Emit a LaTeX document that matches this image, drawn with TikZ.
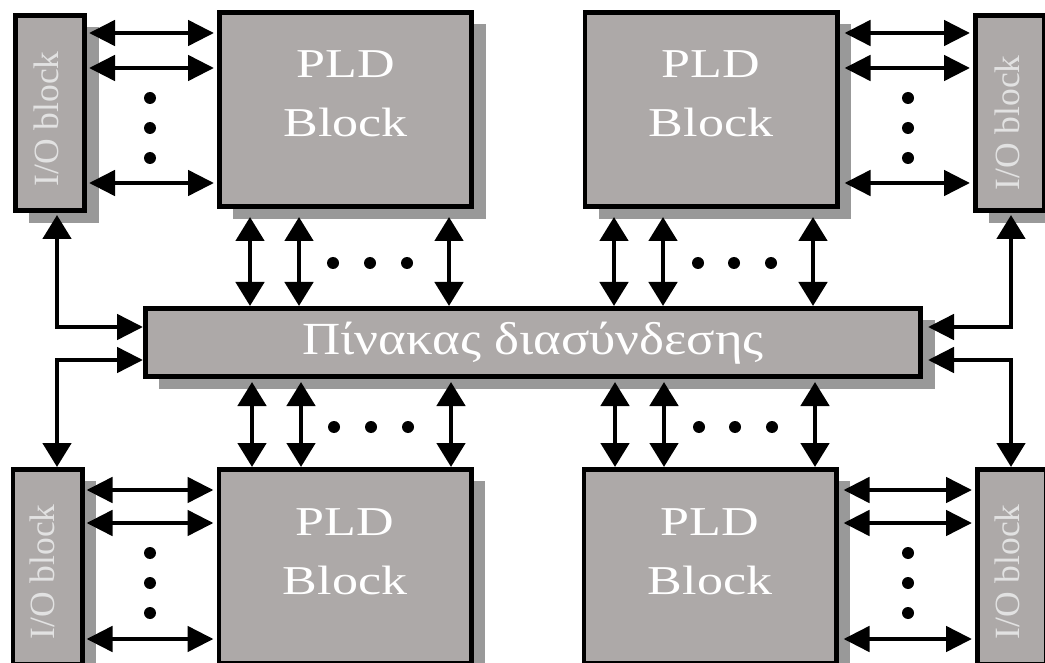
\documentclass[tikz,border=0pt]{standalone}
\usepackage{fontspec}
\setmainfont{Liberation Serif}
\usetikzlibrary{arrows.meta,shadows}
\definecolor{boxgray}{RGB}{173,169,168}
\definecolor{shadegray}{RGB}{153,153,153}
\definecolor{iotext}{RGB}{226,226,226}
\tikzset{
  htip/.tip={Triangle[length=26pt,width=25pt]},
  vtip/.tip={Triangle[length=24pt,width=28pt]},
  blk/.style={draw=black, line width=4.8pt, fill=boxgray, inner sep=0pt,
    drop shadow={shadow xshift=14pt, shadow yshift=-12pt, fill=shadegray, opacity=1}},
  iobox/.style={blk, minimum width=69.2pt, minimum height=195.2pt},
  pldbox/.style={blk, minimum width=252.2pt, minimum height=194.2pt},
  busbox/.style={blk, minimum width=775.2pt, minimum height=68.2pt},
  pldtext/.style={text=white, inner sep=0pt, anchor=base, font=\fontsize{41}{49}\selectfont},
  bustext/.style={text=white, inner sep=0pt, anchor=base, font=\fontsize{46}{55}\selectfont},
  iotext/.style={text=iotext, inner sep=0pt, rotate=90, font=\fontsize{35.5}{42}\selectfont},
  link/.style={line width=4.8pt},
  hlink/.style={link, arrows={htip-htip}, shorten <=2pt, shorten >=3pt},
  vlink/.style={link, arrows={vtip-vtip}},
  dot/.style={circle, fill=black, inner sep=0pt, minimum size=12pt},
}
\begin{document}
\begin{tikzpicture}[x=1pt,y=-1pt]
\useasboundingbox (0,0) rectangle (1045,663);
\clip (0,0) rectangle (1045,663);

% programmable logic blocks
\node[pldbox] (pld1) at (345.5,109.5) {};
\node[pldbox] (pld2) at (711,109.5) {};
\node[pldbox] (pld3) at (345,566.5) {};
\node[pldbox] (pld4) at (710,566.5) {};

% input/output blocks
\node[iobox] (io1) at (50,113) {};
\node[iobox] (io2) at (1010,113) {};
\node[iobox] (io3) at (47.5,567) {};
\node[iobox] (io4) at (1012,567) {};

% interconnect bus
\node[busbox] (bus) at (533,342.5) {};

% labels
\foreach \b in {pld1,pld2,pld3,pld4}{
  \node[pldtext] (\b-a) at ([yshift=-68pt]\b.north) {\scalebox{1.27}[1]{PLD}};
  \node[pldtext] (\b-b) at ([yshift=-127pt]\b.north) {\scalebox{1.27}[1]{Block}};
}
\node[bustext] (bus-t) at ([yshift=-49pt]bus.north) {\scalebox{1.15}[1]{Πίνακας διασύνδεσης}};
\node[iotext] (io1-t) at ([xshift=-3.5pt,yshift=-106pt]io1.north) {I/O block};
\node[iotext] (io2-t) at ([xshift=-3pt,yshift=-110pt]io2.north) {I/O block};
\node[iotext] (io3-t) at ([xshift=-5pt,yshift=-105pt]io3.north) {I/O block};
\node[iotext] (io4-t) at ([xshift=-5pt,yshift=-105pt]io4.north) {I/O block};

% I/O block to logic block links
\foreach \y in {33,68,183}{
  \draw[hlink] (io1.east |- 0,\y) -- (pld1.west |- 0,\y);
  \draw[hlink, shorten <=5pt] (pld2.east |- 0,\y) -- (io2.west |- 0,\y);
}
\foreach \y in {490,523,639}{
  \draw[hlink] (io3.east |- 0,\y) -- (pld3.west |- 0,\y);
  \draw[hlink, shorten <=5pt] (pld4.east |- 0,\y) -- (io4.west |- 0,\y);
}

% logic block to bus links
\foreach \x in {250,299,449}
  \draw[vlink, shorten <=8pt] (pld1.south -| \x,0) -- (bus.north -| \x,0);
\foreach \x in {614,663,813}
  \draw[vlink, shorten <=8pt] (pld2.south -| \x,0) -- (bus.north -| \x,0);
\foreach \x in {252,301,451}
  \draw[vlink, shorten <=3pt] (bus.south -| \x,0) -- (pld3.north -| \x,0);
\foreach \x in {615,664,815}
  \draw[vlink, shorten <=3pt] (bus.south -| \x,0) -- (pld4.north -| \x,0);

% I/O blocks to bus
\draw[link, arrows={vtip-htip}, shorten <=2pt]
  (io1.south -| 57,0) |- (bus.west |- 0,327);
\draw[link, arrows={htip-vtip}]
  (bus.west |- 0,360) -| (io3.north -| 57,0);
\draw[link, arrows={vtip-htip}, shorten <=2pt, shorten >=5pt]
  (io2.south -| 1011,0) |- (bus.east |- 0,327);
\draw[link, arrows={htip-vtip}, shorten <=5pt]
  (bus.east |- 0,360) -| (io4.north -| 1011,0);

% ellipsis dots
\foreach \y [count=\i] in {98,128,158}{
  \node[dot] (dA\i) at (150,\y) {};
  \node[dot] (dB\i) at (908,\y) {};
}
\foreach \y [count=\i] in {553,583,613}{
  \node[dot] (dC\i) at (150,\y) {};
  \node[dot] (dD\i) at (908,\y) {};
}
\foreach \x [count=\i] in {333,370,407}{
  \node[dot] (dE\i) at (\x,263) {};
  \node[dot] (dF\i) at (\x+1,427) {};
}
\foreach \x [count=\i] in {698,734,771}{
  \node[dot] (dG\i) at (\x,263) {};
  \node[dot] (dH\i) at (\x+1,427) {};
}
\end{tikzpicture}
\end{document}
